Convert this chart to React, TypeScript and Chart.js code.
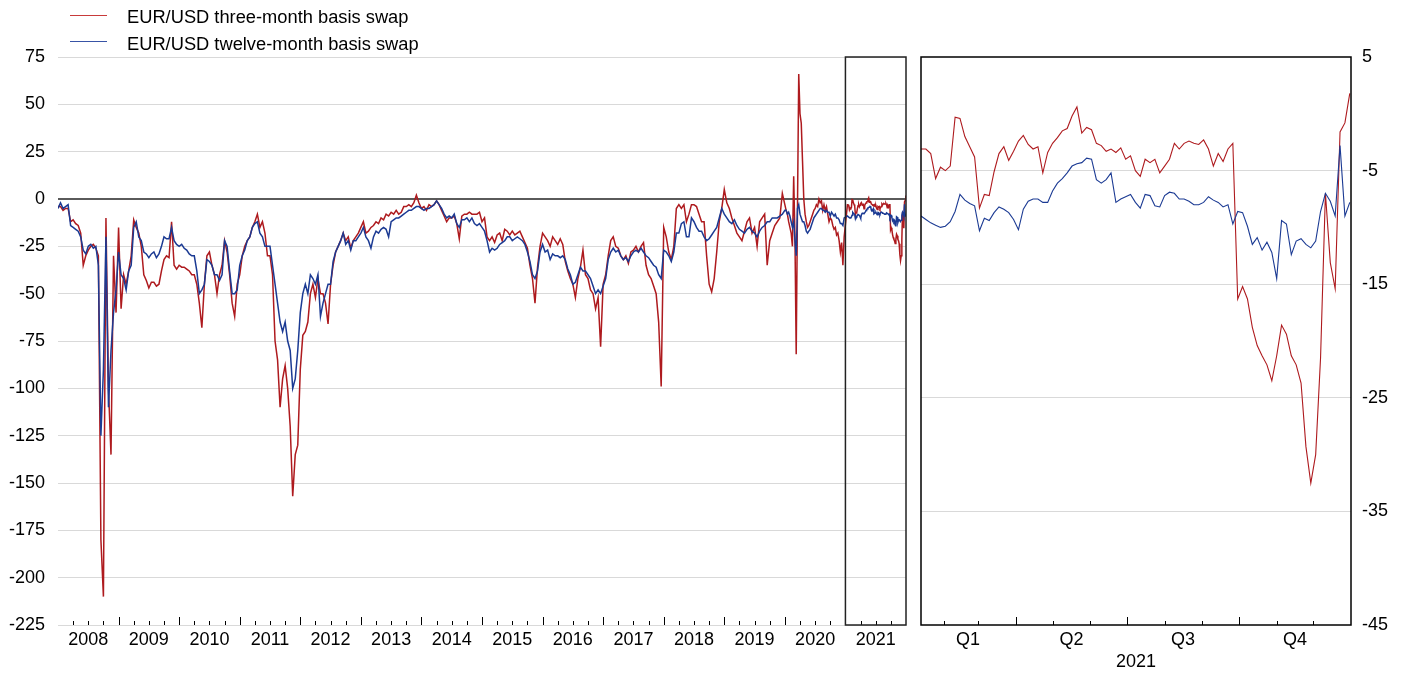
import React, { useEffect, useRef } from "react";
import { Chart, registerables } from "chart.js";

Chart.register(...registerables);

const FONT = "'Liberation Sans', Arial, Helvetica, sans-serif";
const RED = "#ae1a1e";
const BLUE = "#1b3a93";
const RED_KEY = "#c83a3a";
const BLUE_KEY = "#3853a6";

const seriesLabels = ["EUR/USD three-month basis swap", "EUR/USD twelve-month basis swap"];
const yearLabels = [2008, 2009, 2010, 2011, 2012, 2013, 2014, 2015, 2016, 2017, 2018, 2019, 2020, 2021];
const quarterLabels = ["Q1", "Q2", "Q3", "Q4"];
const quarterCentres = [51.5, 136.5, 228, 320];
const monthStarts = [32, 60, 91, 121, 152, 182, 213, 244, 274, 305, 335];
const quarterStarts = [91, 182, 274];
const panelYear = "2021";

// Left panel: half-monthly observations (2020: weekly)
const threeMonth2008 = [-4, -4, -6, -5, -5, -12, -11, -13, -14, -18, -35, -30, -27, -25, -24, -26, -30, -180, -210, -10, -100, -135, -30, -60];
const twelveMonth2008 = [-5, -2, -5, -4, -3, -14, -15, -16, -17, -20, -27, -29, -25, -24, -26, -25, -35, -125, -90, -20, -110, -80, -60, -48];
const threeMonth2009 = [-15, -58, -40, -45, -38, -30, -11, -15, -18, -25, -40, -43, -47, -44, -44, -46, -45, -38, -32, -30, -31, -12, -35, -37];
const twelveMonth2009 = [-28, -40, -42, -48, -38, -35, -15, -12, -20, -22, -28, -29, -31, -29, -28, -31, -29, -25, -20, -21, -21, -15, -22, -24];
const threeMonth2010 = [-35, -36, -36, -37, -38, -40, -40, -45, -55, -68, -45, -30, -28, -35, -40, -50, -40, -35, -22, -28, -40, -55, -62, -45];
const twelveMonth2010 = [-25, -24, -26, -27, -29, -30, -30, -38, -50, -48, -45, -32, -33, -35, -40, -40, -43, -40, -22, -25, -38, -50, -50, -48];
const threeMonth2011 = [-40, -30, -25, -22, -20, -15, -12, -8, -15, -12, -18, -30, -30, -40, -75, -85, -110, -95, -88, -100, -120, -157, -135, -130];
const twelveMonth2011 = [-35, -30, -27, -22, -20, -15, -13, -12, -18, -20, -25, -25, -25, -35, -45, -55, -65, -70, -65, -75, -80, -100, -95, -80];
const threeMonth2012 = [-90, -72, -70, -65, -50, -45, -52, -42, -50, -50, -55, -66, -45, -35, -28, -25, -22, -18, -22, -20, -26, -22, -20, -18];
const twelveMonth2012 = [-60, -50, -45, -50, -40, -42, -45, -40, -62, -55, -50, -45, -45, -33, -28, -25, -22, -18, -24, -22, -27, -22, -22, -20];
const threeMonth2013 = [-15, -12, -18, -17, -15, -14, -12, -13, -10, -11, -8, -9, -7, -8, -6, -8, -7, -4, -4, -3, -4, -2, 2, -2];
const twelveMonth2013 = [-18, -15, -20, -22, -26, -20, -17, -18, -16, -15, -16, -20, -12, -11, -10, -10, -9, -8, -7, -6, -6, -5, -4, -4];
const threeMonth2014 = [-5, -4, -6, -3, -4, -3, -1, -3, -6, -9, -12, -10, -10, -9, -13, -21, -9, -8, -8, -7, -8, -8, -8, -7];
const twelveMonth2014 = [-5, -6, -5, -5, -4, -3, -1, -3, -5, -8, -10, -9, -10, -8, -13, -15, -11, -11, -10, -12, -10, -13, -14, -13];
const threeMonth2015 = [-12, -10, -20, -22, -20, -23, -19, -18, -22, -16, -17, -19, -17, -19, -18, -17, -20, -23, -26, -35, -42, -55, -36, -25];
const twelveMonth2015 = [-15, -17, -22, -28, -26, -27, -26, -24, -23, -22, -20, -20, -22, -21, -20, -21, -22, -24, -28, -33, -40, -42, -38, -28];
const threeMonth2016 = [-18, -20, -22, -25, -20, -22, -24, -21, -24, -33, -38, -42, -45, -52, -42, -36, -27, -40, -42, -48, -50, -58, -52, -78];
const twelveMonth2016 = [-24, -28, -27, -32, -29, -30, -30, -31, -30, -32, -37, -40, -45, -44, -40, -36, -38, -38, -40, -42, -46, -50, -48, -50];
const threeMonth2017 = [-45, -40, -30, -22, -20, -25, -26, -30, -32, -30, -34, -28, -27, -25, -28, -25, -23, -35, -40, -42, -46, -50, -65, -99];
const twelveMonth2017 = [-46, -42, -32, -28, -26, -28, -27, -30, -32, -31, -33, -30, -28, -27, -28, -26, -28, -30, -31, -33, -35, -36, -40, -42];
const threeMonth2018 = [-15, -20, -28, -32, -25, -5, -3, -5, -3, -12, -8, -3, -3, -4, -8, -12, -12, -30, -45, -49, -42, -28, -12, -5];
const twelveMonth2018 = [-27, -28, -30, -33, -28, -18, -18, -13, -12, -20, -20, -10, -12, -15, -17, -17, -20, -22, -21, -19, -17, -15, -10, -5];
const threeMonth2019 = [5, -2, -5, -10, -14, -18, -20, -22, -17, -12, -10, -18, -15, -25, -12, -10, -8, -35, -22, -18, -14, -12, -10, 3];
const twelveMonth2019 = [-8, -10, -12, -13, -11, -14, -16, -17, -18, -16, -15, -17, -18, -20, -17, -15, -14, -12, -12, -10, -10, -10, -9, -8];
const threeMonth2020 = [-3, -6, -8, -12, -15, -18, -25, 12, -20, -82, -5, 66, 45, 40, 20, 0, -8, -12, -15, -14, -12, -10, -8, -6, -5, -3, -4, 0, -2, -1, -6, -3, -6, -4, -8, -12, -10, -11, -14, -16, -15, -19, -18, -22, -28, -23, -35, -20];
const twelveMonth2020 = [-6, -6, -8, -7, -9, -12, -15, -12, -22, -30, -5, -3, -8, -10, -12, -12, -14, -17, -18, -17, -16, -14, -12, -10, -9, -8, -7, -6, -5, -5, -6, -6, -7, -6, -7, -7, -9, -7, -8, -9, -8, -10, -10, -11, -13, -13, -14, -10];

// 2021 (both panels): every fourth calendar day from 13 January
const days2021 = Array.from({ length: 89 }, (_, i) => 13 + 4 * i);
const threeMonth2021 = [
  -3.1, -3.1, -3.5, -5.7, -4.7, -5.0, -4.6, -0.3, -0.4, -2.0,
  -2.9, -3.8, -8.3, -7.1, -7.2, -5.1, -3.5, -2.9, -4.1, -3.3,
  -2.4, -1.9, -2.7, -3.1, -2.9, -5.2, -3.4, -2.6, -2.1, -1.5,
  -1.3, -0.2, 0.6, -1.7, -1.2, -1.4, -2.6, -2.8, -3.3, -3.1,
  -3.4, -3.0, -4.0, -3.7, -5.0, -5.5, -4.0, -4.3, -4.0, -5.2,
  -4.6, -4.0, -2.6, -3.1, -2.6, -2.4, -2.6, -2.7, -2.3, -3.1,
  -4.6, -3.5, -4.2, -3.1, -2.6, -16.3, -15.2, -16.3, -18.8, -20.4,
  -21.3, -22.1, -23.5, -21.3, -18.6, -19.4, -21.3, -22.1, -23.7, -29.3,
  -32.5, -30.0, -21.5, -7.0, -13.1, -15.4, -1.6, -0.8, 1.8,
];
const twelveMonth2021 = [
  -9.0, -9.3, -9.6, -9.8, -10.0, -9.9, -9.5, -8.6, -7.1, -7.6,
  -7.9, -8.1, -10.3, -9.2, -9.4, -8.7, -8.2, -8.4, -8.7, -9.3,
  -10.2, -8.4, -7.7, -7.5, -7.5, -7.8, -7.8, -6.8, -6.1, -5.7,
  -5.2, -4.6, -4.4, -4.3, -3.9, -4.0, -5.8, -6.1, -5.8, -5.2,
  -7.8, -7.5, -7.3, -7.1, -7.8, -8.3, -7.1, -7.2, -8.1, -8.2,
  -7.2, -6.9, -7.0, -7.5, -7.5, -7.7, -8.0, -8.0, -7.8, -7.3,
  -7.6, -7.8, -8.2, -8.0, -9.7, -8.6, -8.7, -9.9, -11.5, -10.9,
  -12.0, -11.3, -12.2, -14.5, -9.4, -9.7, -12.4, -11.2, -11.0, -11.5,
  -11.8, -11.2, -8.6, -7.0, -7.7, -9.0, -2.8, -9.0, -7.8,
];

const threeMonthHistory = [threeMonth2008, threeMonth2009, threeMonth2010, threeMonth2011, threeMonth2012, threeMonth2013, threeMonth2014, threeMonth2015, threeMonth2016, threeMonth2017, threeMonth2018, threeMonth2019, threeMonth2020];
const twelveMonthHistory = [twelveMonth2008, twelveMonth2009, twelveMonth2010, twelveMonth2011, twelveMonth2012, twelveMonth2013, twelveMonth2014, twelveMonth2015, twelveMonth2016, twelveMonth2017, twelveMonth2018, twelveMonth2019, twelveMonth2020];

function buildHistory(perYear: number[][], recent: number[]) {
  const pts: { x: number; y: number }[] = [];
  perYear.forEach((vals, k) => {
    const year = yearLabels[k];
    vals.forEach((v, i) => pts.push({ x: year + i / vals.length, y: v }));
  });
  recent.forEach((v, i) => pts.push({ x: 2021 + (days2021[i] - 1) / 365, y: v }));
  return pts;
}

function buildRecent(vals: number[]) {
  return vals.map((v, i) => ({ x: days2021[i], y: v }));
}

const leftDecor = {
  id: "leftDecor",
  afterDatasetsDraw(chart: any) {
    const { ctx, chartArea, scales } = chart;
    const xs = scales.x;
    ctx.save();
    ctx.strokeStyle = "#000";
    ctx.lineWidth = 1;
    yearLabels.forEach((y) => {
      for (let q = 0; q < 4; q++) {
        if (y === 2008 && q === 0) continue;
        const px = Math.round(xs.getPixelForValue(y + q / 4)) + 0.5;
        const len = q === 0 ? 8 : 4;
        ctx.beginPath();
        ctx.moveTo(px, chartArea.bottom);
        ctx.lineTo(px, chartArea.bottom - len);
        ctx.stroke();
      }
    });
    const x0 = xs.getPixelForValue(2021);
    const x1 = xs.getPixelForValue(2022);
    ctx.strokeStyle = "#222";
    ctx.lineWidth = 1.5;
    ctx.strokeRect(x0, chartArea.top, x1 - x0, chartArea.bottom - chartArea.top);
    ctx.restore();
  },
};

const rightDecor = {
  id: "rightDecor",
  afterDatasetsDraw(chart: any) {
    const { ctx, chartArea, scales } = chart;
    const xs = scales.x;
    ctx.save();
    ctx.strokeStyle = "#000";
    ctx.lineWidth = 1;
    monthStarts.forEach((d) => {
      const px = Math.round(xs.getPixelForValue(d)) + 0.5;
      const len = quarterStarts.includes(d) ? 8 : 4;
      ctx.beginPath();
      ctx.moveTo(px, chartArea.bottom);
      ctx.lineTo(px, chartArea.bottom - len);
      ctx.stroke();
    });
    ctx.lineWidth = 1.5;
    ctx.strokeRect(chartArea.left, chartArea.top, chartArea.right - chartArea.left, chartArea.bottom - chartArea.top);
    ctx.restore();
  },
};

export default function App() {
  const leftRef = useRef<HTMLCanvasElement>(null);
  const rightRef = useRef<HTMLCanvasElement>(null);

  useEffect(() => {
    const tickFont = { family: FONT, size: 18 };
    const left = new Chart(leftRef.current as HTMLCanvasElement, {
      type: "line",
      data: {
        datasets: [
          { label: seriesLabels[0], data: buildHistory(threeMonthHistory, threeMonth2021), borderColor: RED, borderWidth: 1.5, pointRadius: 0, order: 2 },
          { label: seriesLabels[1], data: buildHistory(twelveMonthHistory, twelveMonth2021), borderColor: BLUE, borderWidth: 1.5, pointRadius: 0, order: 1 },
        ],
      },
      options: {
        responsive: false,
        animation: false,
        events: [],
        layout: { padding: { top: 57, right: 9, left: 0, bottom: 0 } },
        plugins: { legend: { display: false }, tooltip: { enabled: false } },
        scales: {
          x: {
            type: "linear",
            min: 2008,
            max: 2022,
            grid: { display: false, drawTicks: false },
            border: { display: false },
            afterBuildTicks: (s: any) => {
              s.ticks = yearLabels.map((y) => ({ value: y + 0.5 }));
            },
            afterFit: (s: any) => {
              s.height = 48;
            },
            ticks: {
              autoSkip: false,
              maxRotation: 0,
              padding: 4,
              color: "#000",
              font: tickFont,
              callback: (_v: any, i: number) => String(yearLabels[i]),
            },
          },
          y: {
            min: -225,
            max: 75,
            ticks: { stepSize: 25, padding: 13, color: "#000", font: tickFont },
            grid: {
              drawTicks: false,
              color: (c: any) => (c.tick && c.tick.value === 0 ? "#5a5a5a" : "#d9d9d9"),
              lineWidth: (c: any) => (c.tick && c.tick.value === 0 ? 2 : 1),
            },
            border: { display: false },
            afterFit: (s: any) => {
              s.width = 58;
            },
          },
        },
      } as any,
      plugins: [leftDecor],
    });

    const right = new Chart(rightRef.current as HTMLCanvasElement, {
      type: "line",
      data: {
        datasets: [
          { label: seriesLabels[0], data: buildRecent(threeMonth2021), borderColor: RED, borderWidth: 1.1, pointRadius: 0, order: 2 },
          { label: seriesLabels[1], data: buildRecent(twelveMonth2021), borderColor: BLUE, borderWidth: 1.1, pointRadius: 0, order: 1 },
        ],
      },
      options: {
        responsive: false,
        animation: false,
        events: [],
        layout: { padding: { top: 57, right: 0, left: 6, bottom: 0 } },
        plugins: { legend: { display: false }, tooltip: { enabled: false } },
        scales: {
          x: {
            type: "linear",
            min: 13,
            max: 366,
            grid: { display: false, drawTicks: false },
            border: { display: false },
            afterBuildTicks: (s: any) => {
              s.ticks = quarterCentres.map((v) => ({ value: v }));
            },
            afterFit: (s: any) => {
              s.height = 48;
            },
            ticks: {
              autoSkip: false,
              maxRotation: 0,
              padding: 4,
              color: "#000",
              font: tickFont,
              callback: (_v: any, i: number) => quarterLabels[i],
            },
            title: { display: true, text: panelYear, color: "#000", font: tickFont, padding: { top: 0, bottom: 0 } },
          },
          y: {
            position: "right",
            min: -45,
            max: 5,
            ticks: { stepSize: 10, padding: 11, color: "#000", font: tickFont },
            grid: {
              drawTicks: false,
              color: (c: any) => (c.tick && (c.tick.value === 5 || c.tick.value === -45) ? "rgba(0,0,0,0)" : "#d9d9d9"),
            },
            border: { display: false },
            afterFit: (s: any) => {
              s.width = 57;
            },
          },
        },
      } as any,
      plugins: [rightDecor],
    });

    return () => {
      left.destroy();
      right.destroy();
    };
  }, []);

  const legendText: React.CSSProperties = {
    position: "absolute",
    left: 127,
    fontFamily: FONT,
    fontSize: 18.3,
    lineHeight: "18px",
    whiteSpace: "nowrap",
    color: "#000",
  };

  return (
    <div style={{ position: "absolute", left: 0, top: 0, width: 1408, height: 673, background: "#fff", overflow: "hidden" }}>
      <canvas ref={leftRef} width={915} height={673} style={{ position: "absolute", left: 0, top: 0 }} />
      <canvas ref={rightRef} width={493} height={673} style={{ position: "absolute", left: 915, top: 0 }} />
      <div style={{ position: "absolute", left: 70, top: 15, width: 37, height: 1, background: RED_KEY }} />
      <div style={{ ...legendText, top: 8 }}>{seriesLabels[0]}</div>
      <div style={{ position: "absolute", left: 70, top: 41, width: 37, height: 1, background: BLUE_KEY }} />
      <div style={{ ...legendText, top: 35 }}>{seriesLabels[1]}</div>
    </div>
  );
}
